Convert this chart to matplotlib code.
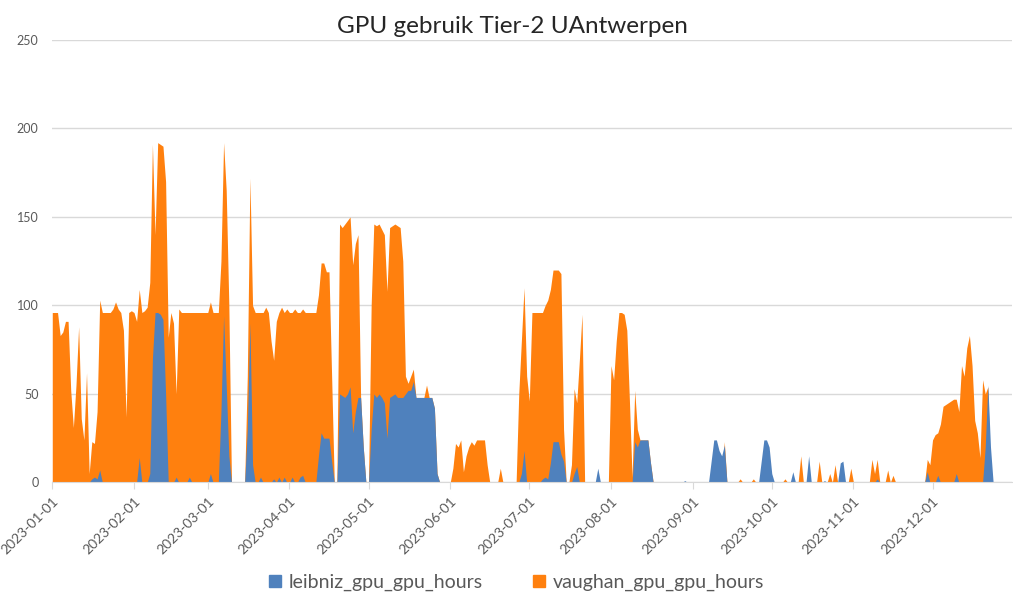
import pandas as pd
import matplotlib
matplotlib.use("Agg")
import matplotlib.pyplot as plt
from matplotlib.patches import Patch

plt.rcParams["font.family"] = ["Lato", "DejaVu Sans"]

# daily values, one line per month (Jan .. Dec)
vaughan = (
    [96, 96, 96, 83, 85, 91, 91, 52, 31, 55, 88, 36, 24, 62, 5, 23, 22, 40, 103, 96, 96, 96, 96, 98, 102, 98, 96, 86, 37, 96, 97]
    + [96, 91, 109, 96, 97, 99, 113, 191, 140, 192, 191, 190, 170, 82, 96, 90, 50, 98, 96, 96, 96, 96, 96, 96, 96, 96, 96, 96]
    + [96, 102, 96, 96, 96, 125, 192, 165, 100, 0, 0, 0, 0, 0, 0, 60, 172, 100, 96, 96, 96, 96, 99, 96, 80, 69, 91, 96, 99, 96, 98]
    + [96, 96, 98, 96, 96, 98, 96, 96, 96, 96, 96, 106, 124, 124, 119, 119, 60, 0, 0, 146, 144, 146, 148, 150, 123, 135, 140, 48, 20, 0]
    + [0, 100, 146, 145, 146, 143, 140, 108, 144, 145, 146, 145, 144, 125, 60, 56, 60, 64, 48, 48, 48, 48, 55, 48, 48, 42, 5, 0, 0, 0, 0]
    + [0, 8, 22, 20, 24, 6, 15, 20, 23, 21, 24, 24, 24, 24, 10, 0, 0, 0, 0, 8, 0, 0, 0, 0, 0, 0, 50, 80, 110, 60]
    + [46, 96, 96, 96, 96, 96, 100, 103, 109, 120, 120, 120, 118, 30, 0, 0, 10, 53, 45, 69, 95, 0, 0, 0, 0, 0, 0, 0, 0, 0, 0]
    + [66, 58, 80, 96, 96, 95, 86, 46, 3, 52, 30, 24, 24, 24, 24, 11, 0, 0, 0, 0, 0, 0, 0, 0, 0, 0, 0, 0, 0, 0, 0]
    + [0, 0, 0, 0, 0, 0, 0, 0, 0, 0, 0, 0, 23, 0, 0, 0, 0, 0, 2, 0, 0, 0, 0, 2, 0, 0, 0, 0, 0, 0]
    + [0, 0, 0, 0, 0, 2, 0, 0, 0, 0, 0, 15, 0, 0, 0, 0, 0, 0, 12, 0, 0, 0, 5, 0, 10, 0, 0, 0, 0, 0, 8]
    + [0, 0, 0, 0, 0, 0, 0, 13, 5, 13, 0, 0, 0, 7, 0, 4, 0, 0, 0, 0, 0, 0, 0, 0, 0, 0, 0, 0, 13, 10]
    + [24, 27, 28, 33, 43, 44, 45, 46, 47, 47, 40, 66, 60, 76, 83, 66, 35, 28, 14, 58, 50, 54, 0, 0, 0, 0, 0, 0, 0, 0, 0]
)

leibniz = (
    [0, 0, 0, 0, 0, 0, 0, 0, 0, 0, 0, 0, 0, 0, 0, 2, 3, 2, 7, 0, 0, 0, 0, 0, 0, 0, 0, 0, 0, 0, 0]
    + [0, 0, 14, 0, 0, 0, 5, 70, 96, 96, 95, 92, 50, 0, 0, 0, 3, 0, 0, 0, 0, 3, 0, 0, 0, 0, 0, 0]
    + [0, 5, 0, 0, 0, 40, 94, 55, 15, 0, 0, 0, 0, 0, 0, 30, 90, 10, 0, 0, 3, 0, 0, 0, 0, 2, 0, 3, 0, 3, 0]
    + [0, 3, 0, 0, 3, 4, 0, 0, 0, 0, 0, 15, 28, 25, 25, 25, 12, 0, 0, 50, 49, 48, 50, 54, 28, 40, 48, 48, 20, 0]
    + [0, 30, 50, 48, 50, 48, 45, 25, 48, 49, 50, 48, 48, 48, 50, 52, 52, 57, 48, 48, 48, 48, 48, 48, 48, 42, 5, 0, 0, 0, 0]
    + [0, 0, 0, 0, 0, 0, 0, 0, 0, 0, 0, 0, 0, 0, 0, 0, 0, 0, 0, 0, 0, 0, 0, 0, 0, 0, 0, 5, 18, 0]
    + [0, 0, 0, 0, 0, 2, 3, 2, 11, 23, 23, 23, 16, 12, 0, 0, 0, 5, 9, 0, 0, 0, 0, 0, 0, 0, 8, 0, 0, 0, 0]
    + [0, 0, 0, 0, 0, 0, 0, 0, 0, 23, 20, 24, 24, 24, 24, 11, 0, 0, 0, 0, 0, 0, 0, 0, 0, 0, 0, 0, 1, 0, 0]
    + [0, 0, 0, 0, 0, 0, 0, 12, 24, 24, 18, 15, 21, 0, 0, 0, 0, 0, 0, 0, 0, 0, 0, 0, 0, 0, 12, 24, 24, 20]
    + [5, 0, 0, 0, 0, 0, 0, 0, 6, 0, 0, 0, 0, 0, 15, 0, 0, 0, 0, 0, 1, 0, 0, 0, 0, 0, 11, 12, 0, 0, 0]
    + [0, 0, 0, 0, 0, 0, 0, 0, 0, 2, 0, 0, 0, 0, 0, 0, 0, 0, 0, 0, 0, 0, 0, 0, 0, 0, 0, 0, 6, 0]
    + [0, 0, 4, 0, 0, 0, 0, 0, 0, 5, 0, 0, 0, 0, 0, 0, 0, 0, 0, 0, 20, 55, 20, 0, 0, 0, 0, 0, 0, 0, 0]
)

days = pd.date_range("2023-01-01", "2023-12-31", freq="D")
month_starts = pd.date_range("2023-01-01", "2023-12-01", freq="MS")
y_ticks = [0, 50, 100, 150, 200, 250]

blue = "#4f81bd"
orange = "#ff800e"
grid_grey = "#d9d9d9"
text_grey = "#595959"

fig = plt.figure(figsize=(10.13, 5.97), dpi=100)
ax = fig.add_axes([0.0516, 0.192, 0.947, 0.741])

ax.fill_between(days, 0, vaughan, color=orange, linewidth=0)
ax.fill_between(days, 0, leibniz, color=blue, linewidth=0)

ax.set_xlim(days[0], days[-1])
ax.set_ylim(0, 250)
ax.set_yticks(y_ticks)
ax.set_yticklabels([str(v) for v in y_ticks], fontsize=9, color=text_grey)
ax.set_xticks(month_starts)
ax.set_xticklabels([d.strftime("%Y-%m-%d") for d in month_starts],
                   rotation=45, ha="right", rotation_mode="anchor",
                   fontsize=10, color=text_grey)

ax.grid(axis="y", color=grid_grey, linewidth=1)
ax.set_axisbelow(True)
for side in ["top", "right", "left"]:
    ax.spines[side].set_visible(False)
ax.spines["bottom"].set_color(grid_grey)
ax.tick_params(axis="y", length=0, pad=10)
ax.tick_params(axis="x", length=5, color=grid_grey, pad=4)

fig.text(0.506, 0.955, "GPU gebruik Tier-2 UAntwerpen", ha="center", va="center",
         fontsize=17.5, color="#262626")

handles = [Patch(color=blue, label="leibniz_gpu_gpu_hours"),
           Patch(color=orange, label="vaughan_gpu_gpu_hours")]
fig.legend(handles=handles, loc="center", bbox_to_anchor=(0.51, 0.024), ncol=2,
           frameon=False, fontsize=14, handlelength=0.6, handleheight=0.6,
           handletextpad=0.4, columnspacing=2.6, labelcolor=text_grey)

fig.savefig("out.png", dpi=100)
